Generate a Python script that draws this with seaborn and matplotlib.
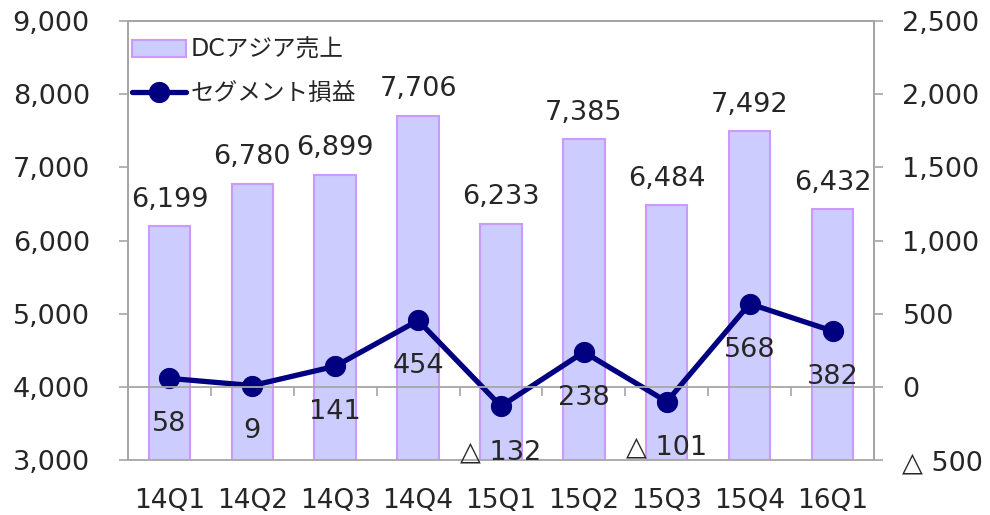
import numpy as np
import pandas as pd
import matplotlib
matplotlib.use('Agg')
import matplotlib.pyplot as plt
from matplotlib.ticker import FixedLocator, FuncFormatter
import seaborn as sns

# データ
quarters = ['14Q1', '14Q2', '14Q3', '14Q4', '15Q1', '15Q2', '15Q3', '15Q4', '16Q1']
sales = [6199, 6780, 6899, 7706, 6233, 7385, 6484, 7492, 6432]
profit = [58, 9, 141, 454, -132, 238, -101, 568, 382]

sns.set_style('white')
plt.rcParams['font.family'] = ['DejaVu Sans', 'Noto Sans CJK JP']

df = pd.DataFrame({'q': quarters, 'sales': sales, 'profit': profit, 'pos': np.arange(len(quarters))})

grey = '#A6A6A6'
fs = 19.5

def jp_num(v):
    # 負の値は △ 表記
    if v < 0:
        return '△ {:,}'.format(int(-v))
    return '{:,}'.format(int(v))

fig = plt.figure(figsize=(9.9, 5.15), dpi=100)
ax = fig.add_axes([0.1293, 0.1068, 0.7535, 0.852])

sns.barplot(data=df, x='q', y='sales', ax=ax, color='#CCCCFF', edgecolor='#CC99FF',
            linewidth=1.5, width=0.5, saturation=1, label='DCアジア売上')
ax.set_ylim(3000, 9000)
ax.set_xlim(-0.5, len(quarters) - 0.5)
ax.yaxis.set_major_locator(FixedLocator(np.arange(3000, 9001, 1000)))
ax.yaxis.set_major_formatter(FuncFormatter(lambda v, p: jp_num(v)))
ax.set_xlabel('')
ax.set_ylabel('')

for i, v in enumerate(sales):
    ax.annotate(jp_num(v), (i, v), xytext=(0, 14), textcoords='offset points',
                ha='center', va='baseline', fontsize=fs)

ax2 = ax.twinx()
sns.lineplot(data=df, x='pos', y='profit', ax=ax2, color='#000080', linewidth=3.8,
             marker='o', markersize=14.5, markeredgecolor='#000080', label='セグメント損益')
ax2.set_ylim(-500, 2500)
ax2.yaxis.set_major_locator(FixedLocator(np.arange(-500, 2501, 500)))
ax2.yaxis.set_major_formatter(FuncFormatter(lambda v, p: jp_num(v)))
ax2.set_ylabel('')
ax2.set_xlabel('')

for i, v in enumerate(profit):
    ax2.annotate(jp_num(v), (i, v), xytext=(0, -33), textcoords='offset points',
                 ha='center', va='center', fontsize=fs)

ax.set_xticks(np.arange(len(quarters)))
ax.set_xticklabels(quarters)
ax.set_xticks(np.arange(len(quarters) + 1) - 0.5, minor=True)

for a in (ax, ax2):
    for s in a.spines.values():
        s.set_color(grey)
        s.set_linewidth(1.3)

# 第2軸の横軸は 0 の位置
ax2.xaxis.set_visible(True)
ax2.spines['bottom'].set_position(('data', 0))
ax2.tick_params(axis='x', which='major', length=0, labelbottom=False, labeltop=False)
ax2.tick_params(axis='x', which='minor', direction='out', length=6.5, color=grey,
                bottom=True, top=False, width=1.2)

ax.tick_params(axis='y', which='major', direction='out', length=6.5, color=grey,
               left=True, labelsize=fs, pad=21, width=1.2)
ax.tick_params(axis='x', which='major', length=0, labelsize=19, pad=20)
ax.tick_params(axis='x', which='minor', bottom=False)
ax2.tick_params(axis='y', direction='out', length=6.5, color=grey, right=True,
                labelsize=fs, pad=14, width=1.2)

h1, l1 = ax.get_legend_handles_labels()
h2, l2 = ax2.get_legend_handles_labels()
if ax2.get_legend() is not None:
    ax2.get_legend().remove()
if ax.get_legend() is not None:
    ax.get_legend().remove()
ax2.legend(h1 + h2, l1 + l2, loc='upper left', frameon=False, fontsize=17,
           bbox_to_anchor=(0.005, 0.962), handlelength=2.3, labelspacing=0.82,
           borderaxespad=0, borderpad=0, handletextpad=0.2)

fig.savefig('out.png', dpi=100)
